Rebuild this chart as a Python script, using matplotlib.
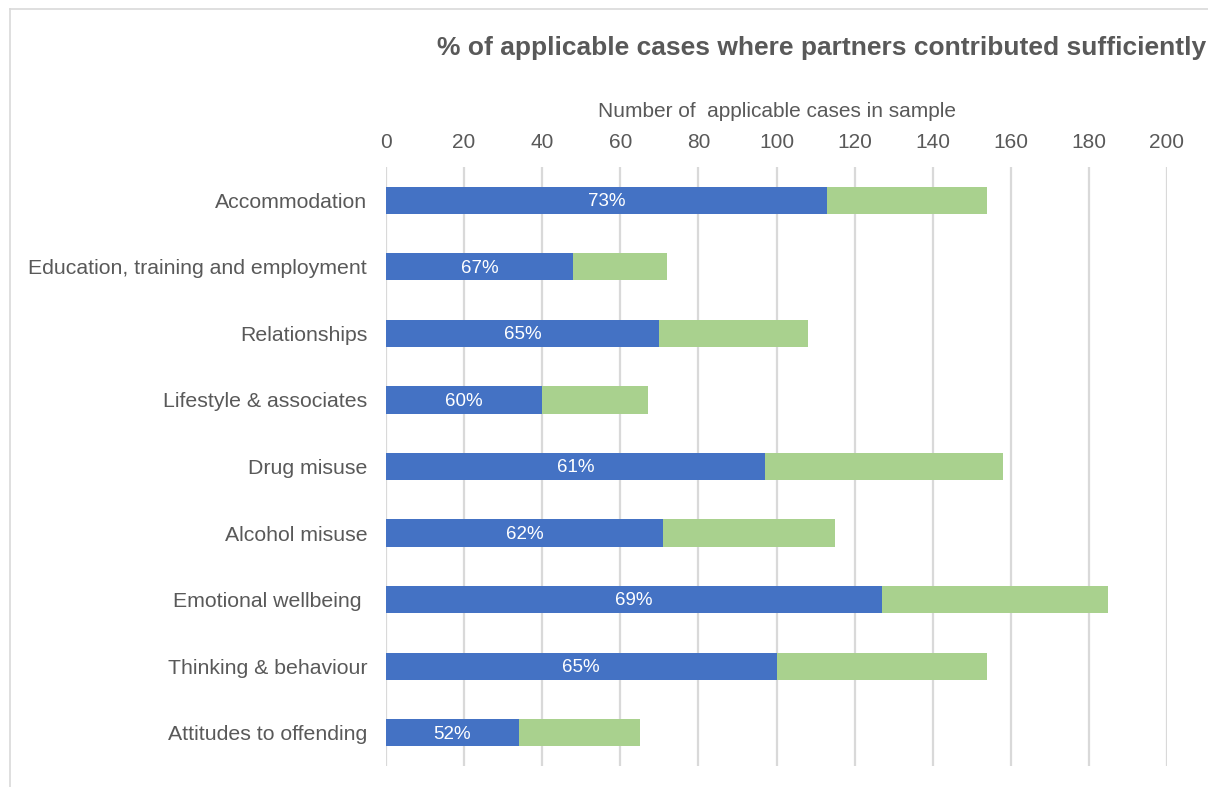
import numpy as np
import matplotlib.pyplot as plt
from matplotlib.lines import Line2D

plt.rcParams['font.family'] = ['Liberation Sans', 'DejaVu Sans']

areas = ['Accommodation', 'Education, training and employment', 'Relationships',
         'Lifestyle & associates', 'Drug misuse', 'Alcohol misuse',
         'Emotional wellbeing ', 'Thinking & behaviour', 'Attitudes to offending']
sufficient = [113, 48, 70, 40, 97, 71, 127, 100, 34]
applicable = [154, 72, 108, 67, 158, 115, 185, 154, 65]
xticks = [0, 20, 40, 60, 80, 100, 120, 140, 160, 180, 200]

blue = '#4472C4'
green = '#A9D18E'
grey_txt = '#595959'
grid_col = '#d9d9d9'

suff = np.array(sufficient)
rest = np.array(applicable) - suff
pct = np.round(suff / np.array(applicable) * 100).astype(int)
y = np.arange(len(areas))

fig = plt.figure(figsize=(12.08, 7.87), dpi=100)
ax = fig.add_axes([386/1208, 1 - 766/787, (1167 - 386)/1208, (766 - 167)/787])

ax.barh(y, suff, height=0.41, color=blue, zorder=3)
ax.barh(y, rest, left=suff, height=0.41, color=green, zorder=3)

for yi, s, p in zip(y, suff, pct):
    ax.text(s / 2, yi + 0.02, f'{p}%', ha='center', va='center', color='white',
            fontsize=13.5, zorder=4)

ax.set_xlim(0, 200)
ax.set_ylim(8.5, -0.5)
ax.set_xticks(xticks)
ax.xaxis.tick_top()
ax.xaxis.set_label_position('top')
ax.set_yticks(y)
ax.set_yticklabels(areas)
ax.tick_params(axis='both', length=0, colors=grey_txt)
ax.tick_params(axis='x', pad=11, labelsize=15)
ax.tick_params(axis='y', pad=13.5, labelsize=15.3)
ax.set_xlabel('Number of  applicable cases in sample', fontsize=15,
              color=grey_txt, labelpad=11)
ax.grid(axis='x', color=grid_col, linewidth=1.6, zorder=0)
for sp in ax.spines.values():
    sp.set_visible(False)

fig.text(437/1208, 1 - 48/787, '% of applicable cases where partners contributed sufficiently',
         ha='left', va='center', fontsize=19, fontweight='bold', color=grey_txt)

# outer chart border (top and left edges only visible)
fig.add_artist(Line2D([10/1208, 1], [1 - 9/787, 1 - 9/787], color=grid_col,
                      linewidth=1.2, transform=fig.transFigure))
fig.add_artist(Line2D([10/1208, 10/1208], [0, 1 - 9/787], color=grid_col,
                      linewidth=1.2, transform=fig.transFigure))

fig.savefig('out.png', dpi=100)
